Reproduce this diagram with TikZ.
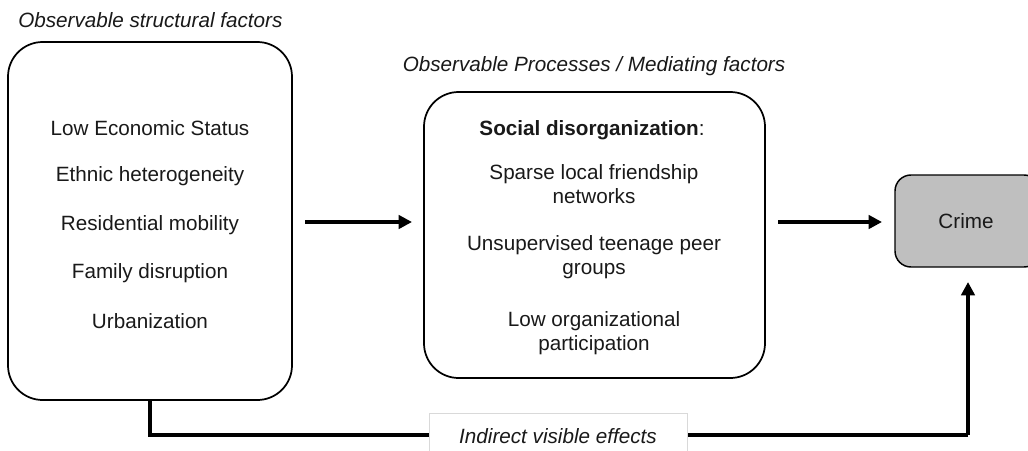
\documentclass[tikz,border=0pt]{standalone}
\usepackage{fontspec}
\setmainfont{Liberation Sans}
\usetikzlibrary{arrows.meta}
\begin{document}
\begin{tikzpicture}[x=0.75pt,y=-0.75pt,
  every node/.style={font=\fontsize{15.5}{18.5}\selectfont, text=black!90},
  bigbox/.style={draw=black, line width=1.3pt, rounded corners=26pt},
  ttl/.style={font=\fontsize{15.5}{18.5}\selectfont\itshape},
  item/.style={align=center},
  thickarrow/.style={line width=3pt, -{Triangle[length=10pt,width=10pt]}},
  thickline/.style={line width=2.4pt}
]
\useasboundingbox (0,0) rectangle (1028,450);
% left box
\draw[bigbox] (8,42) rectangle (292,400);
\node[ttl, anchor=west, inner sep=0pt] (t1) at (18,20) {Observable structural factors};
\node (a1) at (150,128) {Low Economic Status};
\node (a2) at (150,176) {Ethnic heterogeneity};
\node (a3) at (150,225) {Residential mobility};
\node (a4) at (150,273) {Family disruption};
\node (a5) at (150,321) {Urbanization};
\coordinate (lb) at (150,400);
% middle box
\draw[bigbox] (424,92) rectangle (765,378);
\node[ttl] (t2) at (594,66) {Observable Processes / Mediating factors};
\node (m0) at (592,130) {\textbf{Social disorganization}:};
\node[item] (m1) at (594,184) {Sparse local friendship\\networks};
\node[item] (m2) at (594,257) {Unsupervised teenage peer\\groups};
\node[item] (m3) at (594,333) {Low organizational\\participation};
% crime
\draw[line width=1.1pt, rounded corners=12pt, fill=black!25] (895,175) rectangle (1040,267);
\node (cr) at (966,221) {Crime};
\coordinate (crb) at (968,282);
% arrows
\coordinate (ar1s) at (305,222);
\coordinate (ar1e) at (412,222);
\coordinate (ar2s) at (778,222);
\coordinate (ar2e) at (882,222);
\draw[thickarrow] (ar1s) -- (ar1e);
\draw[thickarrow] (ar2s) -- (ar2e);
% bottom connector
\coordinate (c1) at (150,435);
\coordinate (c2) at (968,435);
\draw[thickline] (lb) -- (c1) -- (c2);
\draw[thickarrow] (c2) -- (crb);
\node[draw=black!15, fill=white, line width=0.6pt, minimum width=258*0.75pt, minimum height=50*0.75pt, anchor=north west, inner sep=0pt] (lbl) at (429,413) {};
\node[ttl] (lt) at (558,436) {Indirect visible effects};
\end{tikzpicture}
\end{document}
